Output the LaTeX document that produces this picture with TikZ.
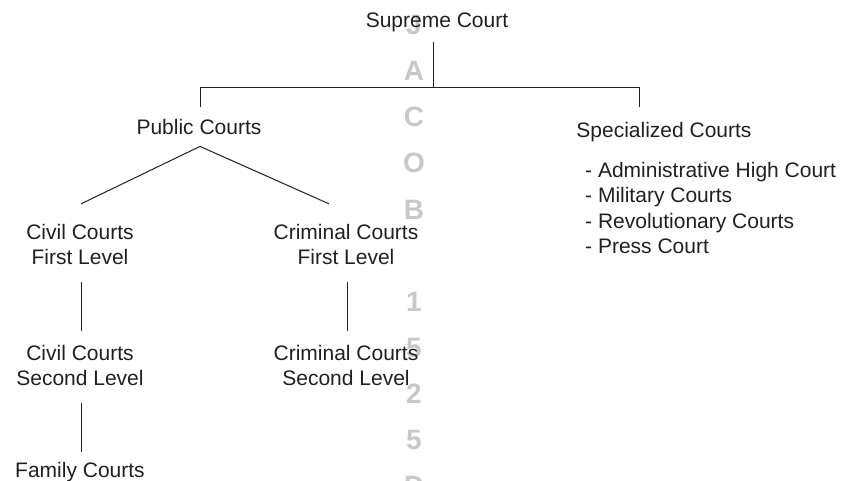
\documentclass[tikz,border=0pt]{standalone}
\usepackage{fontspec}
\setmainfont{Liberation Sans}
\usetikzlibrary{calc}

\definecolor{inkdark}{HTML}{231F20}
\definecolor{stampgray}{HTML}{C8C8C8}

\tikzset{
  court/.style={font=\fontsize{21}{25.5}\selectfont, text=inkdark, inner sep=0pt, align=center},
  link/.style={draw=inkdark, line width=1pt},
  stamp/.style={font=\fontsize{28}{28}\selectfont\bfseries, text=stampgray, inner sep=0pt}
}

\begin{document}
\begin{tikzpicture}[x=1pt,y=-1pt]
        \useasboundingbox (0,0) rectangle (843,481);
        \clip (0,0) rectangle (843,481);

        % Watermark letters down the middle
        \foreach \k/\ch in {0/J,1/A,2/C,3/O,4/B,6/1,7/5,8/2,9/5,10/D}{
            \node[stamp] (stamp\k) at (414, 25+46.1*\k) {\ch};
          }

        % Courts
        \node[court, anchor=base] (supreme) at (437,28) {Supreme Court};
        \node[court, anchor=base] (public) at (199,135) {Public Courts};
        \node[court, anchor=base] (special) at (664,138) {Specialized Courts};
        \node[court, align=left, anchor=north west] (speclist) at (585,162)
          {- Administrative High Court\\- Military Courts\\- Revolutionary Courts\\- Press Court};

        \node[court] (civil1) at (80,244.5) {Civil Courts\\First Level};
        \node[court] (crim1) at (346,244.5) {Criminal Courts\\First Level};
        \node[court] (civil2) at (80,365.5) {Civil Courts\\Second Level};
        \node[court] (crim2) at (346,365.5) {Criminal Courts\\Second Level};
        \node[court, anchor=base] (family) at (80,477) {Family Courts};

        % Bus under the Supreme Court
        \coordinate (busC) at (433,88);
        \coordinate (busL) at (200,88);
        \coordinate (busR) at (639,88);

        % Connections
        \draw[link] ($(supreme.south)+(-4,9)$) -- (busC);
        \draw[link] ($(public.north)+(1,-13)$) -- (busL) -- (busR) -- ($(special.north)+(-25,-16)$);
        \draw[link] ($(civil1.north)+(1,-20)$) -- ($(public.south)+(1,11)$) -- ($(crim1.north)+(-17,-20)$);
        \draw[link] ($(civil1.south)+(1,17)$) -- ($(civil2.north)+(1,-14)$);
        \draw[link] ($(crim1.south)+(1,17)$) -- ($(crim2.north)+(1,-14)$);
        \draw[link] ($(civil2.south)+(1,17)$) -- ($(family.north)+(1,-10)$);
      \end{tikzpicture}
\end{document}
